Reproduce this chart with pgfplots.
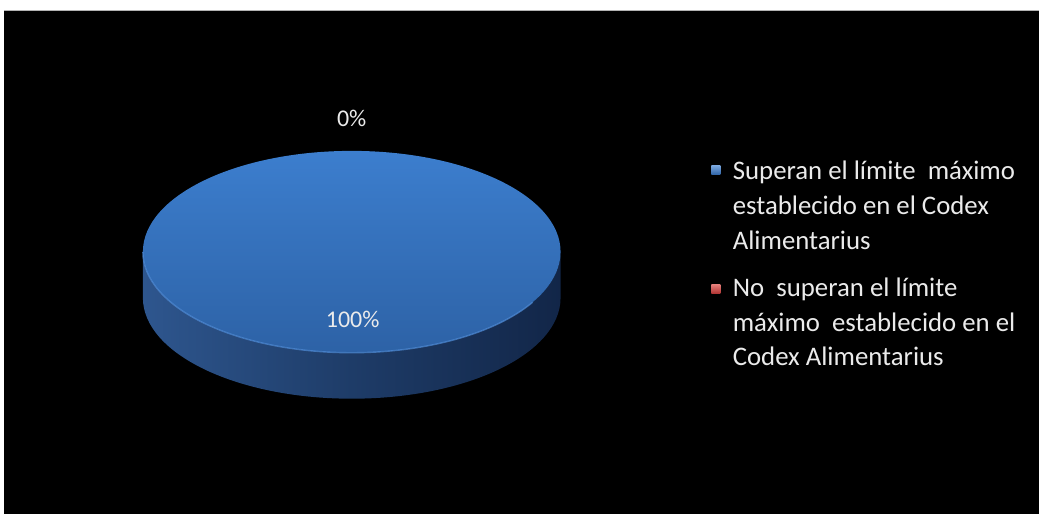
\documentclass[border=0pt]{standalone}
\usepackage{pgfplots}
\pgfplotsset{compat=1.18}
\usepackage{pgfplotstable}
\usepackage{fontspec}
\setmainfont{Carlito}
\definecolor{topA}{RGB}{60,126,206}
\definecolor{topB}{RGB}{45,98,166}
\definecolor{sideA}{RGB}{46,86,142}
\definecolor{sideB}{RGB}{30,60,104}
\definecolor{sideC}{RGB}{18,38,72}
\definecolor{rim}{RGB}{80,140,215}
\definecolor{txt}{RGB}{235,235,235}
\definecolor{redA}{RGB}{220,90,85}
\definecolor{redB}{RGB}{175,50,48}
\pgfplotstableread{
label value
Superan 100
NoSuperan 0
}\datatable
\begin{document}
\begin{tikzpicture}
\begin{axis}[
  hide axis, scale only axis, width=520bp, height=257bp,
  xmin=0, xmax=1040, ymin=0, ymax=514, y dir=reverse,
  clip=false,
]
\fill[white] (axis cs:0,0) rectangle (axis cs:1040,514);
\fill[black] (axis cs:4,10) rectangle (axis cs:1040,514);
\draw[gray!60, line width=0.8bp] (axis cs:4,10.5) -- (axis cs:1040,10.5);
% data-driven slice angles
\pgfplotstablegetelem{0}{value}\of\datatable \let\vA\pgfplotsretval
\pgfplotstablegetelem{1}{value}\of\datatable \let\vB\pgfplotsretval
\pgfmathsetmacro{\tot}{\vA+\vB}
\pgfmathsetmacro{\fracA}{\vA/\tot}
\pgfmathsetmacro{\fracB}{\vB/\tot}
\pgfmathsetmacro{\sweepA}{360*\fracA}
\pgfmathtruncatemacro{\pA}{round(100*\fracA)}
\pgfmathtruncatemacro{\pB}{round(100*\fracB)}
% side of the pie
\shade[left color=sideA, right color=sideC, middle color=sideB]
  (axis cs:143,252) -- (axis cs:143,298)
  arc[start angle=180, end angle=360, x radius=104.5bp, y radius=50.5bp]
  -- (axis cs:561,252)
  arc[start angle=0, end angle=-180, x radius=104.5bp, y radius=50.5bp] -- cycle;
% top slice (slice 1)
\shade[top color=topA, bottom color=topB]
  (axis cs:352,252) -- ++(90:50.5bp)
  arc[start angle=90, delta angle=-\sweepA, x radius=104.5bp, y radius=50.5bp] -- cycle;
% rim highlight on the front edge of the top face
\draw[rim, line width=0.7bp, opacity=0.7] (axis cs:143,252)
  arc[start angle=180, end angle=330, x radius=104.5bp, y radius=50.5bp];
% labels
\node[txt, font=\fontsize{12bp}{14bp}\selectfont, anchor=base, inner sep=0pt] at (axis cs:352,127)
  {\pB\%};
\node[txt, font=\fontsize{12bp}{14bp}\selectfont, anchor=base, inner sep=0pt] at (axis cs:353,328)
  {\pA\%};
% legend
\shade[top color=topA!70!white, bottom color=topB] (axis cs:712,166) rectangle (axis cs:721,175);
\shade[top color=redA!80!white, bottom color=redB] (axis cs:712,285) rectangle (axis cs:721,294);
\begin{scope}[every node/.style={txt, font=\fontsize{13.4bp}{16bp}\selectfont, anchor=base west, inner sep=0pt}]
\node at (axis cs:733,180) {Superan el límite\ \ máximo};
\node at (axis cs:733,215) {establecido en el Codex};
\node at (axis cs:733,250) {Alimentarius};
\node at (axis cs:733,297) {No\ \ superan el límite};
\node at (axis cs:733,332) {máximo\ \ establecido en el};
\node at (axis cs:733,366) {Codex Alimentarius};
\end{scope}
\end{axis}
\end{tikzpicture}
\end{document}
